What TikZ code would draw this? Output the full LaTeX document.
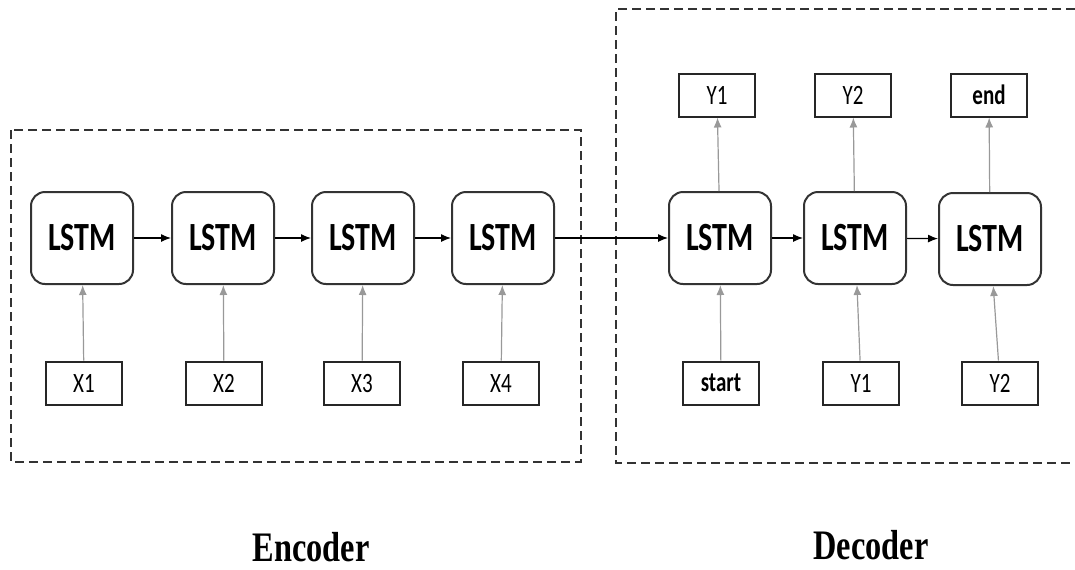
\documentclass[tikz,border=0pt]{standalone}
\usepackage{fontspec}
\setmainfont{Carlito}
\newfontfamily\boxfont[FakeStretch=0.75]{Carlito}
\newfontfamily\capfont[FakeStretch=0.77]{Liberation Serif}
\usetikzlibrary{arrows.meta}
\begin{document}
\begin{tikzpicture}[x=0.5pt,y=-0.5pt,
		cell/.style={draw=black!80,line width=1pt,rounded corners=7pt,minimum width=51pt,minimum height=46pt,inner sep=0pt,font=\boxfont\bfseries\fontsize{20}{21}\selectfont},
		tok/.style={draw=black!85,line width=1pt,minimum width=38pt,minimum height=21.5pt,inner sep=0pt,font=\boxfont\fontsize{14}{15}\selectfont},
		flow/.style={-{Latex[length=5pt,width=4pt]},line width=0.6pt},
		feed/.style={flow,draw=black!40},
		frame/.style={draw=black!80,line width=1pt,dash pattern=on 4.5pt off 2.5pt},
		caption/.style={font=\capfont\bfseries\fontsize{21}{22}\selectfont,anchor=base}]
	\useasboundingbox (0,0) rectangle (1075,569);
	% frames
	\draw[frame] (11,130) rectangle (581,462);
	\draw[frame] (1075,9) -| (616,463) -- (1075,463);
	\node[caption] (enc) at (311,561) {Encoder};
	\node[caption] (dec) at (871,559) {Decoder};
	% cells
	\foreach \n/\x/\y in {e1/82/238,e2/223/238,e3/363/238,e4/503/238,d1/720/238,d2/855/238,d3/990/239}{
		\node[cell] (\n) at (\x,\y) {LSTM};
	}
	% inputs and outputs
	\foreach \n/\x/\t in {x1/84/X1,x2/224/X2,x3/362/X3,x4/501/X4,s1/721/{\bfseries start},s2/861/Y1,s3/1000/Y2}{
		\node[tok] (\n) at (\x,383) {\t};
	}
	\foreach \n/\x/\t in {y1/717/Y1,y2/853/Y2,y3/989/{\bfseries end}}{
		\node[tok] (\n) at (\x,95) {\t};
	}
	% connectors
	\foreach \a/\b in {e1/e2,e2/e3,e3/e4,e4/d1,d1/d2,d2/d3}{
		\draw[flow] (\a) -- (\b);
	}
	\foreach \a/\b in {x1/e1,x2/e2,x3/e3,x4/e4,s1/d1,s2/d2,s3/d3,d1/y1,d2/y2,d3/y3}{
		\draw[feed] (\a) -- (\b);
	}
\end{tikzpicture}
\end{document}
